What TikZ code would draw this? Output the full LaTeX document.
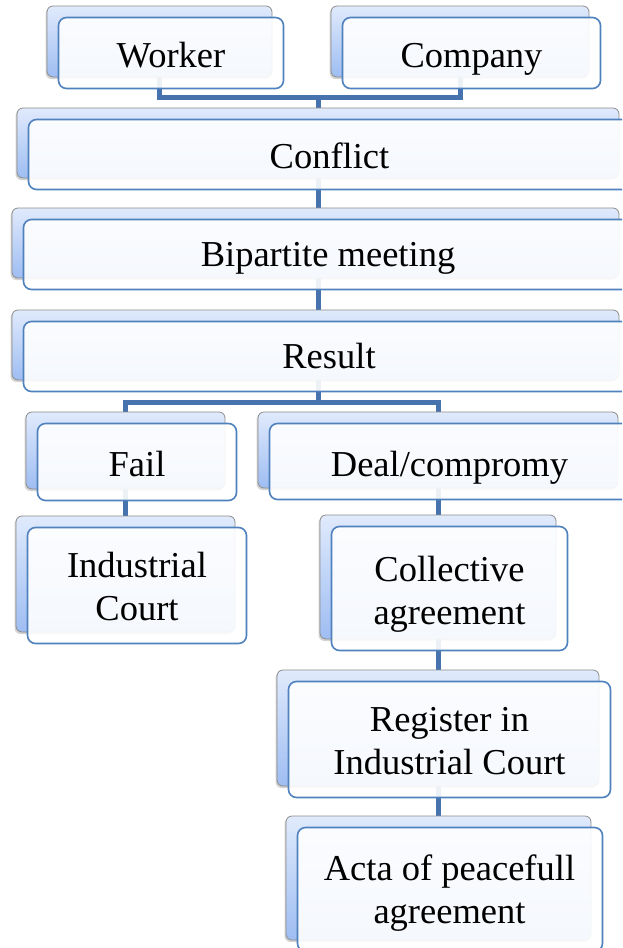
\documentclass[tikz,border=0pt]{standalone}
\usepackage{fontspec}
\setmainfont{Liberation Serif}
\usetikzlibrary{shadows}
\definecolor{connc}{HTML}{4673AD}
\definecolor{frontb}{HTML}{4F81BD}
\definecolor{backtop}{HTML}{E0EAFC}
\definecolor{backbot}{HTML}{9EBDF2}
\definecolor{backb}{HTML}{8C8C8C}
\pgfdeclarelayer{bg}
\pgfsetlayers{bg,main}
\tikzset{
  backbox/.style={draw=backb, line width=0.8pt, rounded corners=6pt,
    top color=backtop, bottom color=backbot, inner sep=0pt,
    drop shadow={shadow xshift=-1.5pt, shadow yshift=-2pt, opacity=0.35}},
  frontbox/.style={draw=frontb, line width=1.6pt, rounded corners=8pt,
    fill=white, fill opacity=0.9, draw opacity=1, inner sep=0pt},
  conn/.style={draw=connc, line width=5pt},
  lbl/.style={anchor=base, inner sep=0pt, font=\fontsize{36.5}{43}\selectfont},
}
\newcommand\twobox[5]{%
  \node[backbox, minimum width=#4pt, minimum height=#5pt] (#1B) at (#2,#3) {};
  \node[frontbox, minimum width=#4pt, minimum height=#5pt] (#1F) at ([shift={(11.5,11.5)}]#1B.center) {};
}
\begin{document}
\begin{tikzpicture}[x=1pt,y=-1pt]
\useasboundingbox (0,0) rectangle (622,948);
\clip (0,0) rectangle (622,948);
% boxes
\twobox{w}{159.5}{41.5}{225}{71}
\twobox{co}{460}{41.5}{258}{71}
\twobox{cf}{318}{143}{602}{70}
\twobox{bp}{315.5}{243}{607}{70}
\twobox{r}{315.5}{345}{607}{70}
\twobox{f}{125.5}{450.5}{199}{77}
\twobox{d}{438}{450}{360}{76}
\twobox{ic}{125.5}{574}{219}{116}
\twobox{ca}{438}{577}{236}{124}
\twobox{rg}{438}{728}{322}{116}
\twobox{a}{438.5}{878}{305}{124}
% texts
\node[lbl] (wT) at (171,67.5) {Worker};
\node[lbl] (coT) at (471.5,67) {Company};
\node[lbl] (cfT) at (329.5,168) {Conflict};
\node[lbl] (bpT) at (328,266.5) {Bipartite meeting};
\node[lbl] (rT) at (329,368) {Result};
\node[lbl] (fT) at (137,476.5) {Fail};
\node[lbl] (dT) at (449.5,476.5) {Deal/compromy};
\node[lbl] (icT1) at (137,577) {Industrial};
\node[lbl] (icT2) at (137,620) {Court};
\node[lbl] (caT1) at (449.5,581) {Collective};
\node[lbl] (caT2) at (449.5,624) {agreement};
\node[lbl] (rgT1) at (449.5,731) {Register in};
\node[lbl] (rgT2) at (449.5,774) {Industrial Court};
\node[lbl] (aT1) at (449.5,880) {Acta of peacefull};
\node[lbl] (aT2) at (449.5,923) {agreement};
% connectors
\begin{pgfonlayer}{bg}
\draw[conn] (wB.south) -- ++(0,20) -| (cfB.north);
\draw[conn] (coB.south) -- ++(0,20) -| (cfB.north);
\draw[conn] (cfB.south) -- (cfB.south |- bpB.north);
\draw[conn] (bpB.south -| cfB.south) -- (cfB.south |- rB.north);
\draw[conn] (rB.south -| cfB.south) -- ++(0,22) -| (fB.north);
\draw[conn] (rB.south -| cfB.south) -- ++(0,22) -| (dB.north);
\draw[conn] (fB.south) -- (icB.north);
\draw[conn] (dB.south) -- (caB.north);
\draw[conn] (caB.south) -- (rgB.north);
\draw[conn] (rgB.south) -- (rgB.south |- aB.north);
\end{pgfonlayer}
\end{tikzpicture}
\end{document}
